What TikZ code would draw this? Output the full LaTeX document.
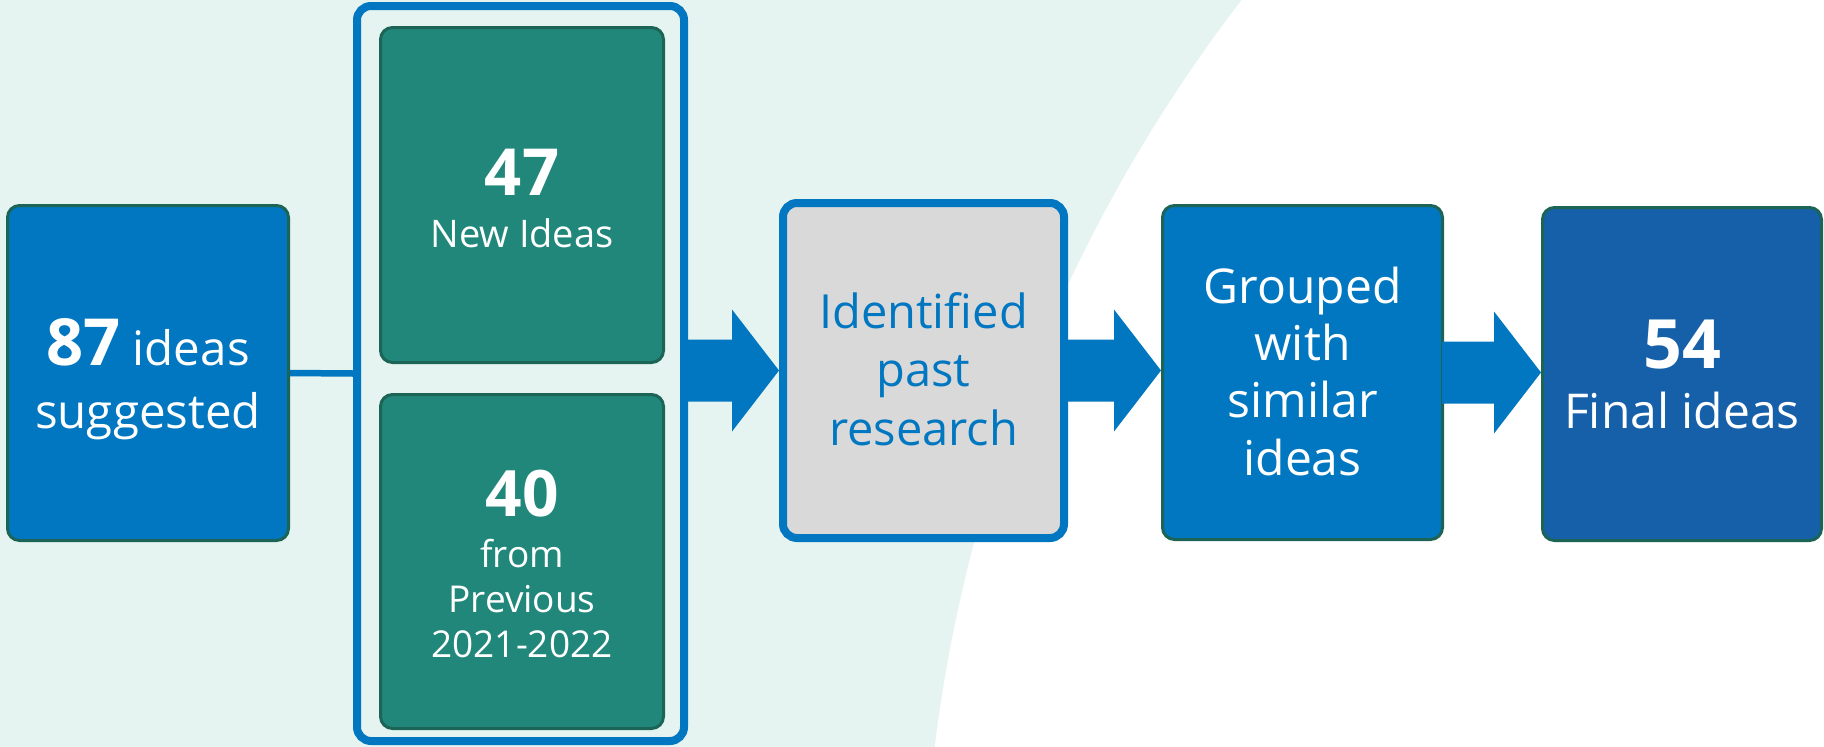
\documentclass[tikz,border=0pt]{standalone}
\usepackage{fontspec}
\setmainfont{Open Sans}
\usetikzlibrary{calc}
\definecolor{mint}{HTML}{E5F4F1}
\definecolor{mblue}{HTML}{0077C0}
\definecolor{dgreen}{HTML}{1C6455}
\definecolor{tealbox}{HTML}{21877A}
\definecolor{fblue}{HTML}{1560A8}
\definecolor{lgray}{HTML}{D9D9D9}
\begin{document}
\begin{tikzpicture}[x=1pt,y=-1pt,
  greenedge/.style={draw=dgreen, line width=3pt, rounded corners=12pt, inner sep=0pt},
  bluebox/.style={greenedge, fill=mblue},
  tbox/.style={greenedge, fill=tealbox},
  finalbox/.style={greenedge, fill=fblue},
  graybox/.style={draw=mblue, line width=8pt, fill=lgray, rounded corners=14pt, inner sep=0pt},
  frame/.style={draw=mblue, line width=8pt, rounded corners=14pt, inner sep=0pt},
  wtxt/.style={text=white, align=center, anchor=base, inner sep=0pt},
  btxt/.style={text=mblue, align=center, anchor=base, inner sep=0pt},
  blockarrow/.style={fill=mblue},
  link/.style={draw=mblue, line width=6.5pt}]
\useasboundingbox (0,0) rectangle (1824,747);
% background
\fill[mint] (0,0) rectangle (1824,747);
\begin{scope}
  \clip (0,0) rectangle (1824,747);
  \fill[white] (2461,937.6) circle[radius=1538pt];
\end{scope}
% boxes
\node[bluebox, minimum width=281pt, minimum height=335pt] (b1) at (148,373) {};
\node[frame, minimum width=327pt, minimum height=735pt] (cont) at (520.5,373.5) {};
\node[tbox, minimum width=283pt, minimum height=335pt] (n47) at (522,195) {};
\node[tbox, minimum width=283pt, minimum height=334pt] (n40) at (522,561.5) {};
\node[graybox, minimum width=281pt, minimum height=335pt] (b3) at (923.5,370.5) {};
\node[bluebox, minimum width=280pt, minimum height=334pt] (b4) at (1302.5,372.5) {};
\node[finalbox, minimum width=279pt, minimum height=333pt] (b5) at (1682,374) {};
% connectors
\draw[link] (b1.east) -- (cont.west);
\fill[blockarrow] ($(cont.east |- b3.west)+(-2,-31)$) -- ($(b3.west)+(-47,-31)$) -- ($(b3.west)+(-47,-61)$) -- (b3.west)
  -- ($(b3.west)+(-47,61)$) -- ($(b3.west)+(-47,31)$) -- ($(cont.east |- b3.west)+(-2,31)$) -- cycle;
\fill[blockarrow] ($(b3.east)+(-2,-31)$) -- ($(b4.west |- b3.east)+(-47,-31)$) -- ($(b4.west |- b3.east)+(-47,-61)$) -- (b4.west |- b3.east)
  -- ($(b4.west |- b3.east)+(-47,61)$) -- ($(b4.west |- b3.east)+(-47,31)$) -- ($(b3.east)+(-2,31)$) -- cycle;
\fill[blockarrow] ($(b4.east)+(-2,-31)$) -- ($(b5.west |- b4.east)+(-47,-31)$) -- ($(b5.west |- b4.east)+(-47,-61)$) -- (b5.west |- b4.east)
  -- ($(b5.west |- b4.east)+(-47,61)$) -- ($(b5.west |- b4.east)+(-47,31)$) -- ($(b4.east)+(-2,31)$) -- cycle;
% texts (anchor base = baseline of last line)
\node[wtxt, font=\fontsize{47.5}{63}\selectfont] (t1) at (148,428)
  {{\fontsize{65}{65}\selectfont\bfseries 87} ideas\\suggested};
\node[wtxt, font=\fontsize{38}{52}\selectfont] (t47) at (522,247)
  {{\fontsize{65}{65}\selectfont\bfseries 47}\\New Ideas};
\node[wtxt, font=\fontsize{37}{45}\selectfont] (t40) at (522,657)
  {{\fontsize{64}{64}\selectfont\bfseries 40}\\[6pt]from\\Previous\\2021-2022};
\node[btxt, font=\fontsize{47}{58.5}\selectfont] (t3) at (923.5,445)
  {Identified\\past\\research};
\node[wtxt, font=\fontsize{48}{57.3}\selectfont] (t4) at (1302.5,475)
  {Grouped\\with\\similar\\ideas};
\node[wtxt, font=\fontsize{48}{60}\selectfont] (t5) at (1682,428)
  {{\fontsize{68}{68}\selectfont\bfseries 54}\\Final ideas};
\end{tikzpicture}
\end{document}
